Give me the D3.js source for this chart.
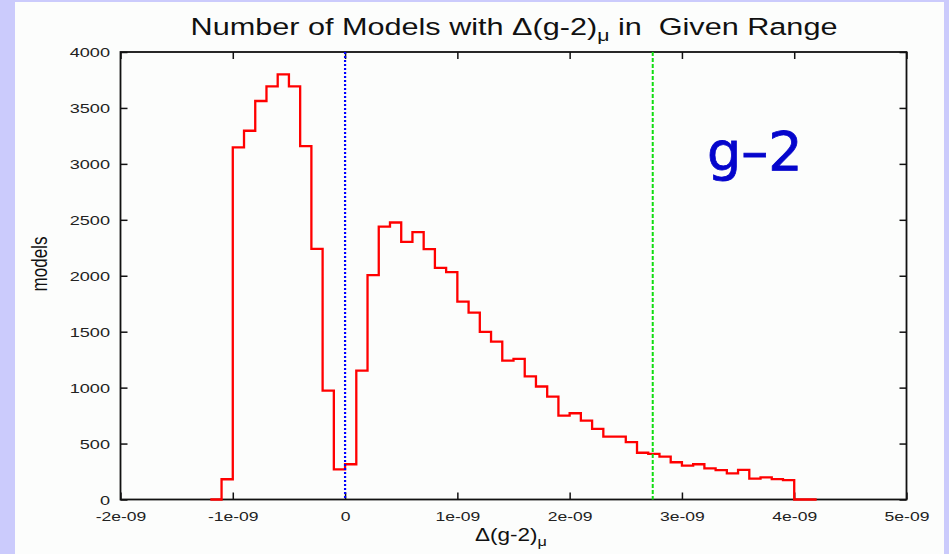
<!DOCTYPE html>
<html>
<head>
<meta charset="utf-8">
<script src="https://cdn.jsdelivr.net/npm/d3@7"></script>
<style>
  body { margin: 0; background: #cbcbfc; }
  svg { display: block; }
</style>
</head>
<body>
<div id="chart"></div>
<script>
// bin left edges (bin width 1e-10) and number of models in each bin
var binStart = [-1.2e-9, -1.1e-9, -1.0e-9, -0.9e-9, -0.8e-9, -0.7e-9, -0.6e-9, -0.5e-9, -0.4e-9, -0.3e-9,
    -0.2e-9, -0.1e-9, 0.0, 0.1e-9, 0.2e-9, 0.3e-9, 0.4e-9, 0.5e-9, 0.6e-9, 0.7e-9,
    0.8e-9, 0.9e-9, 1.0e-9, 1.1e-9, 1.2e-9, 1.3e-9, 1.4e-9, 1.5e-9, 1.6e-9, 1.7e-9,
    1.8e-9, 1.9e-9, 2.0e-9, 2.1e-9, 2.2e-9, 2.3e-9, 2.4e-9, 2.5e-9, 2.6e-9, 2.7e-9,
    2.8e-9, 2.9e-9, 3.0e-9, 3.1e-9, 3.2e-9, 3.3e-9, 3.4e-9, 3.5e-9, 3.6e-9, 3.7e-9,
    3.8e-9, 3.9e-9, 4.0e-9, 4.1e-9];
var binEnd = 4.2e-9;
var models = [0, 181, 3147, 3296, 3562, 3693, 3800, 3693, 3159, 2240,
    973, 270, 315, 1152, 2005, 2440, 2476, 2303, 2390, 2238,
    2071, 2032, 1769, 1671, 1498, 1411, 1242, 1257, 1100, 1010,
    920, 750, 771, 705, 632, 562, 562, 512, 418, 407,
    383, 333, 303, 315, 279, 262, 234, 264, 186, 198,
    183, 174, 0, 0];

// vertical reference lines
var zeroLine = 0;
var measuredLine = 2.74e-9;

// ticks
var xTicks = [-2e-9, -1e-9, 0, 1e-9, 2e-9, 3e-9, 4e-9, 5e-9];
var xTickLabels = ["-2e-09", "-1e-09", "0", "1e-09", "2e-09", "3e-09", "4e-09", "5e-09"];
var yTicks = [0, 500, 1000, 1500, 2000, 2500, 3000, 3500, 4000];
var yTickLabels = ["0", "500", "1000", "1500", "2000", "2500", "3000", "3500", "4000"];

var W = 949, H = 554;
var margin = { top: 52, left: 120.5 },
    width = 786,
    height = 447.5;

var svg = d3.select("#chart")
    .append("svg")
    .attr("width", W)
    .attr("height", H);

// white page area inside the lavender border
svg.append("rect")
    .attr("x", 15).attr("y", 2)
    .attr("width", 929).attr("height", H - 2)
    .attr("fill", "#fcfdfc");

var g = svg.append("g")
    .attr("transform", "translate(" + margin.left + "," + margin.top + ")");

var x = d3.scaleLinear()
    .domain([-2e-9, 5e-9])
    .range([0, width]);
var y = d3.scaleLinear()
    .domain([0, 4000])
    .range([height, 0]);

var font = "'Liberation Sans', Arial, Helvetica, sans-serif";

// bottom axis with inward ticks
var xAxis = g.append("g")
    .attr("transform", "translate(0," + height + ")")
    .call(d3.axisBottom(x).tickValues(xTicks).tickSizeInner(-7).tickSizeOuter(0)
        .tickFormat(function(d, i) { return xTickLabels[i]; }));
xAxis.selectAll("text")
    .attr("y", 21.5).attr("dy", null)
    .attr("transform", "scale(1.3,1)")
    .attr("font-family", font).attr("font-size", "13.5px").attr("fill", "#222");

// left axis
var yAxis = g.append("g")
    .call(d3.axisLeft(y).tickValues(yTicks).tickSizeInner(-7).tickSizeOuter(0)
        .tickFormat(function(d, i) { return yTickLabels[i]; }));
yAxis.selectAll("text")
    .attr("x", -10.5 / 1.45).attr("dy", "0.36em")
    .attr("transform", "scale(1.45,1)")
    .attr("font-family", font).attr("font-size", "12.5px").attr("fill", "#222");

// mirrored ticks on top and right
g.append("g")
    .call(d3.axisTop(x).tickValues(xTicks).tickSizeInner(-7).tickSizeOuter(0).tickFormat(""));
g.append("g")
    .attr("transform", "translate(" + width + ",0)")
    .call(d3.axisRight(y).tickValues(yTicks).tickSizeInner(-7).tickSizeOuter(0).tickFormat(""));

g.selectAll(".tick line").attr("stroke", "#111").attr("stroke-width", 1.5);
g.selectAll(".domain").remove();

// frame
g.append("rect")
    .attr("width", width).attr("height", height)
    .attr("fill", "none").attr("stroke", "#111").attr("stroke-width", 1.8);

// histogram steps
var steps = binStart.map(function(d, i) { return [d, models[i]]; });
steps.push([binEnd, models[models.length - 1]]);
var line = d3.line()
    .x(function(d) { return x(d[0]); })
    .y(function(d) { return y(d[1]); })
    .curve(d3.curveStepAfter);
g.append("path")
    .datum(steps)
    .attr("d", line)
    .attr("fill", "none")
    .attr("stroke", "#ff0000")
    .attr("stroke-width", 2.3);

// reference lines
g.append("line")
    .attr("x1", x(zeroLine)).attr("x2", x(zeroLine))
    .attr("y1", 0).attr("y2", height)
    .attr("stroke", "#0000ff").attr("stroke-width", 2.2)
    .attr("stroke-dasharray", "2,2");
g.append("line")
    .attr("x1", x(measuredLine)).attr("x2", x(measuredLine))
    .attr("y1", 0).attr("y2", height)
    .attr("stroke", "#11dd11").attr("stroke-width", 2)
    .attr("stroke-dasharray", "4,2");

// title
var title = svg.append("text")
    .attr("transform", "translate(514,35) scale(1.25,1)")
    .attr("text-anchor", "middle")
    .attr("font-family", font).attr("font-size", "24.5px").attr("fill", "#111")
    .style("white-space", "pre");
title.append("tspan").text("Number of Models with \u0394(g-2)");
title.append("tspan").attr("dy", 6).attr("font-size", "17px").text("\u03bc");
title.append("tspan").attr("dy", -6).text(" in  Given Range");

// x axis label
var xLabel = svg.append("text")
    .attr("transform", "translate(511,541) scale(1.25,1)")
    .attr("text-anchor", "middle")
    .attr("font-family", font).attr("font-size", "18px").attr("fill", "#111");
xLabel.append("tspan").text("\u0394(g-2)");
xLabel.append("tspan").attr("dy", 5).attr("font-size", "13px").text("\u03bc");

// y axis label
svg.append("text")
    .attr("transform", "translate(47,264) rotate(-90) scale(1,1.25)")
    .attr("text-anchor", "middle")
    .attr("font-family", font).attr("font-size", "17px").attr("fill", "#111")
    .text("models");

// g-2 annotation
svg.append("text")
    .attr("x", 707).attr("y", 170)
    .attr("font-family", "'DejaVu Sans', sans-serif").attr("font-size", "54px")
    .attr("fill", "#0505cc").attr("stroke", "#0505cc").attr("stroke-width", 0.8)
    .text("g\u20132");
</script>
</body>
</html>
